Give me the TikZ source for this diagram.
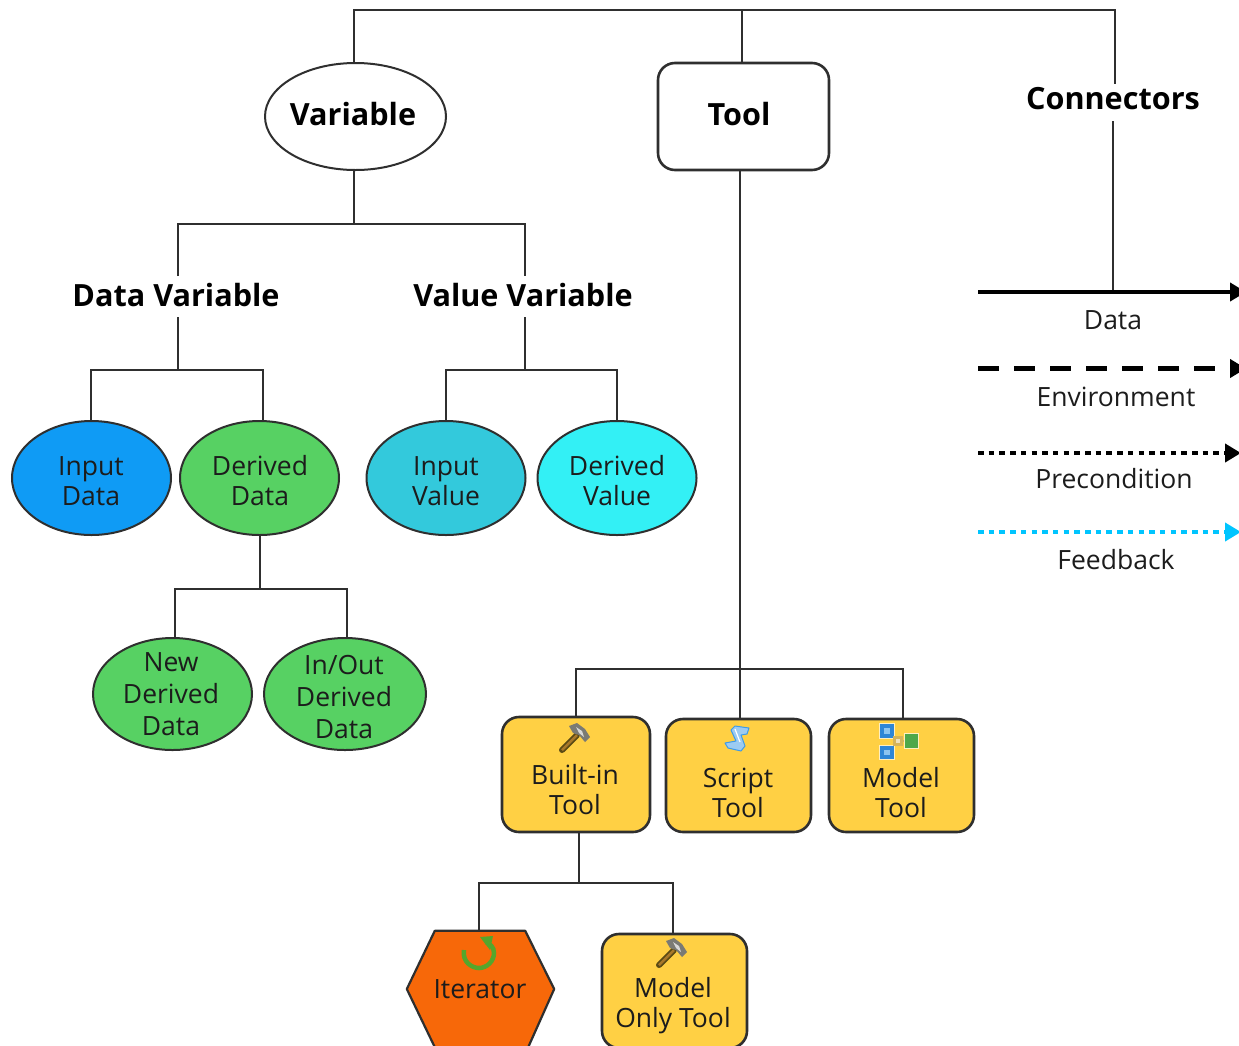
\documentclass[tikz,border=0pt]{standalone}
\usepackage{fontspec}
\setmainfont{Open Sans}
\usetikzlibrary{shapes.geometric,arrows.meta}
\definecolor{inputdata}{HTML}{0F9BF5}
\definecolor{derived}{HTML}{57D163}
\definecolor{inputvalue}{HTML}{33C9DC}
\definecolor{derivedvalue}{HTML}{33F0F5}
\definecolor{toolfill}{HTML}{FFD044}
\definecolor{iterfill}{HTML}{F76809}
\definecolor{feedback}{HTML}{00C5FF}
\definecolor{linecol}{HTML}{2F2F2F}
\definecolor{txt}{HTML}{1C1C1C}
\definecolor{handleout}{HTML}{5A4A14}
\definecolor{handlein}{HTML}{A8782A}
\definecolor{hammerhead}{HTML}{7A7A74}
\definecolor{hammerlight}{HTML}{D8D8D8}
\definecolor{scrollfill}{HTML}{9CCBF2}
\definecolor{scrollline}{HTML}{3E9BE8}
\definecolor{nodeblue}{HTML}{2F86D6}
\definecolor{nodeblueL}{HTML}{8CC4F0}
\definecolor{nodegreen}{HTML}{4FA84A}
\definecolor{nodebeige}{HTML}{D6B45A}
\definecolor{halo}{HTML}{FFEFC0}
\definecolor{iterarrow}{HTML}{55A62C}
\newcommand{\lbl}{\fontsize{26.5}{30}\selectfont}
\newcommand{\hdg}{\fontsize{30.6}{34}\selectfont\bfseries}
\newcommand{\hammericon}[2]{%
  \begin{scope}[shift={(#1,#2)}]
    \draw[line width=6pt,color=handleout,line cap=round] (562,750) -- (577,735);
    \draw[line width=2.5pt,color=handlein] (562,750) -- (577,735);
    \fill[hammerhead] (569,726) -- (577,723) -- (585,729) -- (590,737) -- (585,742) -- (579,735) -- (573,733) -- cycle;
    \fill[hammerlight] (576,727) -- (582,731) -- (584,737) -- (579,733) -- cycle;
  \end{scope}}
\tikzset{
  conn/.style={line width=2.4pt,color=linecol},
  ell/.style={ellipse,draw=linecol,line width=2pt,inner sep=0pt},
  toolbox/.style={rectangle,rounded corners=17pt,draw=linecol,line width=2.6pt,fill=toolfill,inner sep=0pt},
  heading/.style={inner sep=0pt,text=black,font=\hdg},
  lab/.style={inner sep=0pt,align=center,text=txt,font=\lbl},
  legendlbl/.style={inner sep=0pt,text=txt,font=\lbl},
  legendhead/.style={-{Triangle[length=16pt,width=18pt]}},
}
\begin{document}
\begin{tikzpicture}[x=1pt,y=-1pt]
\useasboundingbox (0,0) rectangle (1239,1045);
\clip (0,0) rectangle (1239,1045);
% junctions and free ends
\coordinate (top1) at (354,10);
\coordinate (top2) at (742,10);
\coordinate (top3) at (1115,10);
\coordinate (jv) at (354,224);
\coordinate (jdv) at (178,370);
\coordinate (jvv) at (525,370);
\coordinate (jder) at (260,589);
\coordinate (jtool) at (740,669);
\coordinate (jbuilt) at (579,883);
\coordinate (dataend) at (1113,292);
\coordinate (d1) at (978,292);   \coordinate (d2) at (1246,292);
\coordinate (e1) at (978,368.5); \coordinate (e2) at (1246,368.5);
\coordinate (p1) at (978,453);   \coordinate (p2) at (1241,453);
\coordinate (f1) at (978,532);   \coordinate (f2) at (1241,532);
% shapes
\node[ell,fill=white,minimum width=181pt,minimum height=107pt] (var) at (355.5,116.5) {};
\node[rectangle,rounded corners=17pt,draw=linecol,line width=2.6pt,fill=white,minimum width=171pt,minimum height=107pt,inner sep=0pt] (tool) at (743.5,116.5) {};
\node[ell,fill=inputdata,minimum width=159pt,minimum height=114pt] (idata) at (91.5,478) {};
\node[ell,fill=derived,minimum width=159pt,minimum height=114pt] (ddata) at (259.5,478) {};
\node[ell,fill=inputvalue,minimum width=159pt,minimum height=114pt] (ival) at (446,478) {};
\node[ell,fill=derivedvalue,minimum width=159pt,minimum height=114pt] (dval) at (617,478) {};
\node[ell,fill=derived,minimum width=159pt,minimum height=112pt] (nder) at (172.5,694) {};
\node[ell,fill=derived,minimum width=162pt,minimum height=112pt] (ioder) at (345,694) {};
\node[toolbox,minimum width=148pt,minimum height=115pt] (built) at (576,774.5) {};
\node[toolbox,minimum width=145pt,minimum height=113pt] (script) at (738.5,775.5) {};
\node[toolbox,minimum width=145pt,minimum height=113pt] (model) at (901.5,775.5) {};
\node[toolbox,minimum width=145pt,minimum height=114pt] (monly) at (674.5,991) {};
\node[minimum width=147pt,minimum height=116pt,inner sep=0pt] (iter) at (480.5,989) {};
\fill[iterfill] (iter.west) -- ([xshift=28pt]iter.north west) -- ([xshift=-29pt]iter.north east) -- (iter.east) -- ([xshift=-26pt]iter.south east) -- ([xshift=28pt]iter.south west) -- cycle;
\draw[line width=2.2pt,color=linecol,line join=round] (iter.west) -- ([xshift=28pt]iter.north west) -- ([xshift=-29pt]iter.north east) -- (iter.east) -- ([xshift=-26pt]iter.south east) -- ([xshift=28pt]iter.south west) -- cycle;
% heading and shape labels
\node[heading] (tvar) at (353,114) {Variable};
\node[heading] (ttool) at (739,114) {Tool};
\node[heading] (conn) at (1113,99) {Connectors};
\node[heading] (dv) at (176,295) {Data Variable};
\node[heading] (vv) at (523,295) {Value Variable};
\node[lab] (tidata) at (91,481) {Input\\Data};
\node[lab] (tddata) at (260,481) {Derived\\Data};
\node[lab] (tival) at (446,481) {Input\\Value};
\node[lab] (tdval) at (617,481) {Derived\\Value};
\node[lab] (tnder) at (171,694.5) {New\\[2pt]Derived\\[2pt]Data};
\node[lab] (tioder) at (344,697) {In/Out\\[2pt]Derived\\[2pt]Data};
% tree
\draw[conn] (top1 |- var.north) -- (top1) -- (top3) -- (1115,84);
\draw[conn] (top2) -- (top2 |- tool.north);
\draw[conn] (1113,121) -- (dataend);
\draw[conn] (jv |- var.south) -- (jv);
\draw[conn] (178,276) |- (jv) -| (525,276);
\draw[conn] (178,317) -- (jdv);
\draw[conn] (525,317) -- (jvv);
\draw[conn] (91,421) |- (jdv) -| (263,421);
\draw[conn] (ival.north) |- (jvv) -| (dval.north);
\draw[conn] (jder |- ddata.south) -- (jder);
\draw[conn] (175,639) |- (jder) -| (347,639);
\draw[conn] (jtool |- tool.south) -- (jtool);
\draw[conn] (jtool) -- (jtool |- script.north);
\draw[conn] (built.north) |- (jtool) -| (903,719);
\draw[conn] (jbuilt |- built.south) -- (jbuilt);
\draw[conn] (479,931) |- (jbuilt) -| (673,934);
% labels of tool boxes
\node[lab] (tbuilt) at (575,789.5) {Built-in\\Tool};
\node[lab] (tscript) at (738,792.5) {Script\\Tool};
\node[lab] (tmodel) at (901,792.5) {Model\\Tool};
\node[lab] (tmonly) at (673,1005.5) {Model\\Only Tool};
% icons
\hammericon{0}{0}
\hammericon{97}{215}
% script icon
\fill[scrollfill,draw=scrollline,line width=1pt,line join=round] (731,730) -- (735,726) -- (749,728) -- (747,734) -- (741,735) -- (745,746) -- (741,751) -- (728,748) -- (725,743) -- (736,741) -- cycle;
\draw[line width=1.2pt,color=white] (735,729) -- (740,742);
% model icon
\draw[line width=1.8pt,color=nodebeige] (887,730) -- (898,741) -- (887,752);
\draw[line width=1.8pt,color=nodebeige] (898,741) -- (912,741);
\fill[halo] (879,723) rectangle (895,739);
\fill[halo] (879,745) rectangle (895,760);
\fill[halo] (904,733) rectangle (919,749);
\fill[nodeblue] (880,724) rectangle (894,738);
\fill[nodeblueL] (884,728) rectangle (890,734);
\fill[nodeblue] (880,746) rectangle (894,759);
\fill[nodeblueL] (884,750) rectangle (890,755);
\fill[nodegreen] (905,734) rectangle (918,748);
\fill[nodebeige] (893,736) rectangle (903,746);
\fill[white!60!nodebeige] (896,739) rectangle (900,743);
% iterator icon
\draw[line width=4.5pt,color=iterarrow] (464,950) .. controls (462,962) and (472,968) .. (479,968) .. controls (487,968) and (494,961) .. (494,953) .. controls (494,947) and (490,944) .. (486,942);
\fill[iterarrow] (480,937) -- (493,936) -- (490,950) -- cycle;
\node[lab] (titer) at (480,989) {Iterator};
% legend
\draw[line width=4.5pt,color=black,legendhead] (d1) -- (d2);
\node[legendlbl] (ldata) at (1113,320) {Data};
\draw[line width=4.5pt,color=black,dash pattern=on 20.5pt off 15.5pt,legendhead] (e1) -- (e2);
\node[legendlbl] (lenv) at (1116,397) {Environment};
\draw[line width=4.5pt,color=black,dash pattern=on 5.5pt off 5.2pt,legendhead] (p1) -- (p2);
\node[legendlbl] (lpre) at (1114,479) {Precondition};
\draw[line width=4.5pt,color=feedback,dash pattern=on 5.5pt off 5.2pt,legendhead] (f1) -- (f2);
\node[legendlbl] (lfee) at (1116,560) {Feedback};
\end{tikzpicture}
\end{document}
